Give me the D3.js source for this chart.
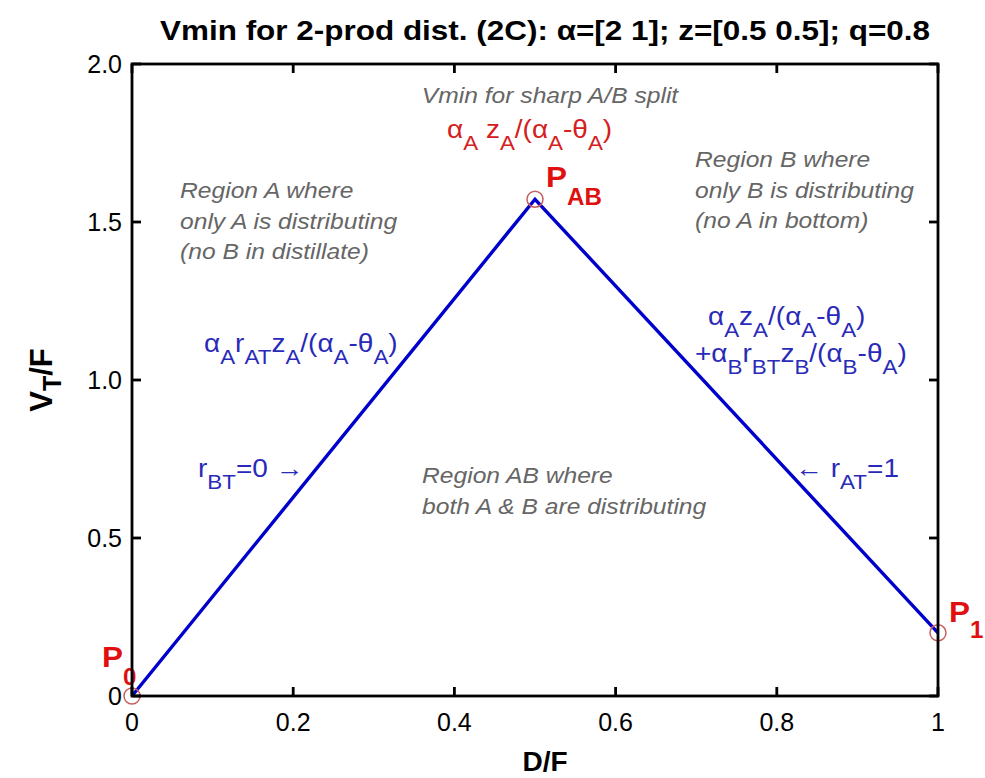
<!DOCTYPE html>
<html><head><meta charset="utf-8">
<script src="https://cdn.jsdelivr.net/npm/d3@7"></script>
<style>body{margin:0;background:#fff}svg{display:block}text{font-family:"Liberation Sans",Arial,sans-serif}</style>
</head><body>
<svg id="c" width="985" height="778"></svg>
<script>
// ---- data ----
const dOverF = [0, 0.5, 1];
const vtOverF = [0, 1.572, 0.2];
const markerX = [0, 0.5, 1];
const markerY = [0, 1.572, 0.2];
const xTicks = [0, 0.2, 0.4, 0.6, 0.8, 1];
const xTickLabels = ["0", "0.2", "0.4", "0.6", "0.8", "1"];
const yTicks = [0, 0.5, 1.0, 1.5, 2.0];
const yTickLabels = ["0", "0.5", "1.0", "1.5", "2.0"];
const titleText = "Vmin for 2-prod dist. (2C): \u03b1=[2 1]; z=[0.5 0.5]; q=0.8";

// ---- layout ----
const L = 132, R = 938, T = 64, B = 696;
const svg = d3.select("#c");
const x = d3.scaleLinear().domain([0, 1]).range([L, R]);
const y = d3.scaleLinear().domain([0, 2]).range([B, T]);
const K = 1.12; // horizontal stretch of annotation text

// rich text helper: parts = [[text, 'n'|'s'], ...]
function rich(px, py, parts, o) {
  const fs = o.size, ss = o.sub || fs * 0.78, sh = o.shift || fs * 0.38;
  const g = svg.append("g").attr("transform", `translate(${px},${py}) scale(${o.k || K},1)`);
  const t = g.append("text").attr("x", 0).attr("y", 0)
    .attr("fill", o.color).attr("font-size", fs)
    .attr("font-weight", o.bold ? "bold" : "normal")
    .attr("font-style", o.italic ? "italic" : "normal")
    .attr("text-anchor", o.anchor || "start");
  let cur = 0;
  parts.forEach(([s, m]) => {
    const target = m === "s" ? sh : 0;
    t.append("tspan").attr("dy", target - cur)
      .attr("font-size", m === "s" ? ss : fs).text(s);
    cur = target;
  });
  return t;
}

// ---- line ----
const pts = dOverF.map((d, i) => [d, vtOverF[i]]);
svg.append("path").datum(pts)
  .attr("d", d3.line().x(d => x(d[0])).y(d => y(d[1])))
  .attr("fill", "none").attr("stroke", "#0000cc").attr("stroke-width", 3.4);

// ---- annotations (gray italic) ----
const gray = "#666", gfs = 22;
function lines(px, py, arr, dy, anchor) {
  arr.forEach((s, i) => rich(px, py + i * dy, [[s, "n"]], { size: gfs, color: gray, italic: true, anchor }));
}
lines(550, 103, ["Vmin for sharp A/B split"], 0, "middle");
lines(180, 198, ["Region A where", "only A is distributing", "(no B in distillate)"], 30.5);
lines(695, 167, ["Region B where", "only B is distributing", "(no A in bottom)"], 30.5);
lines(422, 483, ["Region AB where", "both A & B are distributing"], 30.5);

// red formula
const fo = { size: 25, sub: 20, shift: 12 };
rich(447, 138, [["\u03b1", "n"], ["A", "s"], [" z", "n"], ["A", "s"], ["/(\u03b1", "n"], ["A", "s"], ["-\u03b8", "n"], ["A", "s"], [")", "n"]],
  Object.assign({ color: "#d42020" }, fo));

// blue formulas
const blue = "#2a2ab8";
const bo = Object.assign({ color: blue }, fo);
rich(204, 352, [["\u03b1", "n"], ["A", "s"], ["r", "n"], ["AT", "s"], ["z", "n"], ["A", "s"], ["/(\u03b1", "n"], ["A", "s"], ["-\u03b8", "n"], ["A", "s"], [")", "n"]], bo);
rich(708, 325, [["\u03b1", "n"], ["A", "s"], ["z", "n"], ["A", "s"], ["/(\u03b1", "n"], ["A", "s"], ["-\u03b8", "n"], ["A", "s"], [")", "n"]], bo);
rich(695, 362, [["+\u03b1", "n"], ["B", "s"], ["r", "n"], ["BT", "s"], ["z", "n"], ["B", "s"], ["/(\u03b1", "n"], ["B", "s"], ["-\u03b8", "n"], ["A", "s"], [")", "n"]], bo);
rich(198, 477, [["r", "n"], ["BT", "s"], ["=0 \u2192", "n"]], bo);
rich(795, 477, [["\u2190 r", "n"], ["AT", "s"], ["=1", "n"]], bo);

// point labels (red bold)
const red = "#e01010";
const po = { size: 30, color: red, bold: true, sub: 23, shift: 18, k: 1.05 };
rich(546, 187, [["P", "n"], ["AB", "s"]], po);
rich(949, 622, [["P", "n"], ["1", "s"]], Object.assign({}, po, { shift: 16 }));
rich(102, 667, [["P", "n"], ["0", "s"]], po);

// markers
svg.selectAll("circle.m").data(markerX.map((d, i) => [d, markerY[i]])).join("circle")
  .attr("class", "m").attr("cx", d => x(d[0])).attr("cy", d => y(d[1])).attr("r", 8)
  .attr("fill", "none").attr("stroke", "#c86060").attr("stroke-width", 1.5);

// ---- axes (box, inward ticks) ----
const ax = svg.append("g");
ax.append("rect").attr("x", L).attr("y", T).attr("width", R - L).attr("height", B - T)
  .attr("fill", "none").attr("stroke", "#000").attr("stroke-width", 2.8);
const tl = 9;
xTicks.forEach(v => {
  ax.append("line").attr("x1", x(v)).attr("x2", x(v)).attr("y1", B).attr("y2", B - tl).attr("stroke", "#000").attr("stroke-width", 2.8);
  ax.append("line").attr("x1", x(v)).attr("x2", x(v)).attr("y1", T).attr("y2", T + tl).attr("stroke", "#000").attr("stroke-width", 2.8);
});
yTicks.forEach(v => {
  ax.append("line").attr("x1", L).attr("x2", L + tl).attr("y1", y(v)).attr("y2", y(v)).attr("stroke", "#000").attr("stroke-width", 2.8);
  ax.append("line").attr("x1", R).attr("x2", R - tl).attr("y1", y(v)).attr("y2", y(v)).attr("stroke", "#000").attr("stroke-width", 2.8);
});
svg.selectAll("text.xt").data(xTicks).join("text").attr("class", "xt")
  .attr("x", d => x(d)).attr("y", B + 35).attr("text-anchor", "middle")
  .attr("font-size", 25).attr("fill", "#000").text((d, i) => xTickLabels[i]);
svg.selectAll("text.yt").data(yTicks).join("text").attr("class", "yt")
  .attr("x", L - 10).attr("y", d => y(d) + 9).attr("text-anchor", "end")
  .attr("font-size", 25).attr("fill", "#000").text((d, i) => yTickLabels[i]);

// ---- titles ----
svg.append("text").attr("x", 545).attr("y", 40).attr("text-anchor", "middle")
  .attr("font-size", 28).attr("font-weight", "bold").attr("fill", "#000")
  .attr("textLength", 770).attr("lengthAdjust", "spacingAndGlyphs").text(titleText);
svg.append("text").attr("x", 545).attr("y", 771).attr("text-anchor", "middle")
  .attr("font-size", 28).attr("font-weight", "bold").attr("fill", "#000").text("D/F");
const yl = svg.append("text").attr("transform", "translate(52,380) rotate(-90)")
  .attr("text-anchor", "middle").attr("font-size", 31).attr("font-weight", "bold").attr("fill", "#000");
yl.append("tspan").text("V");
yl.append("tspan").attr("dy", 9).attr("font-size", 25).text("T");
yl.append("tspan").attr("dy", -9).text("/F");
</script>
</body></html>
